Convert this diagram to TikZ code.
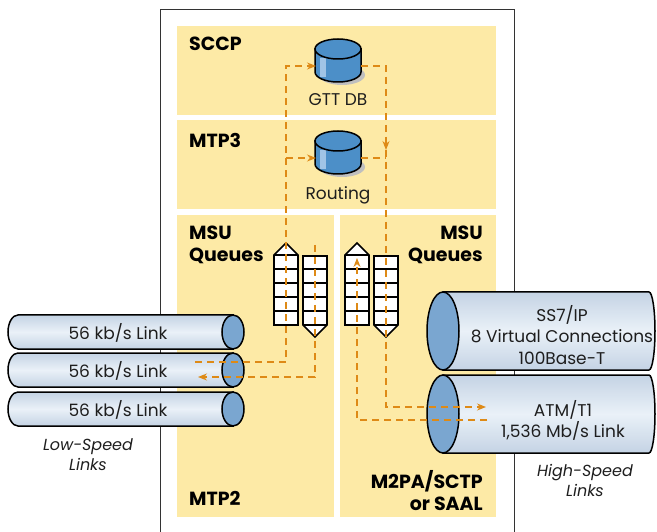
\documentclass[tikz,border=0pt]{standalone}
\usepackage{fontspec}
\setmainfont{Poppins}
\usetikzlibrary{arrows.meta}

\definecolor{amarelo}{RGB}{253,234,166}
\definecolor{laranja}{RGB}{222,138,22}
\definecolor{azul}{RGB}{76,143,200}
\definecolor{azulclaro}{RGB}{160,196,230}
\definecolor{corpo}{RGB}{196,211,228}
\definecolor{brilho}{RGB}{234,241,248}
\definecolor{tampa}{RGB}{122,166,208}
\definecolor{cinza}{RGB}{30,30,30}

\begin{document}
\begin{tikzpicture}[x=1pt, y=-1pt, >={Stealth[length=9pt,width=7pt]},
		camada/.style={fill=amarelo},
		rotulo/.style={font=\bfseries\fontsize{19}{22}\selectfont, inner sep=0pt},
		texto/.style={font=\fontsize{17}{21.5}\selectfont, text=cinza, inner sep=0pt, align=center},
		legenda/.style={font=\itshape\fontsize{16}{20}\selectfont, text=cinza, inner sep=0pt, align=center},
		contorno/.style={draw=black, line width=1.5pt},
		enlace/.style={contorno, top color=corpo, bottom color=corpo, middle color=brilho},
		fila/.style={draw=black, line width=1.7pt, fill=white},
		fluxo/.style={draw=laranja, line width=1.2pt, dash pattern=on 7pt off 5pt}]
	\useasboundingbox (0,0) rectangle (657,532);
	
	% Moldura
	\draw[line width=0.8pt, black!80] (160,545) -- (160,9) -- (514,9) -- (514,545);
	
	% Camadas
	\fill[camada] (177,26) rectangle (496,115);
	\fill[camada] (177,120) rectangle (496,209);
	\fill[camada] (177,215) rectangle (334,517);
	\fill[camada] (340,215) rectangle (496,517);
	
	\node[rotulo, anchor=north west] (sccp) at (189,37) {SCCP};
	\node[rotulo, anchor=north west] (mtp3) at (189,133) {MTP3};
	\node[rotulo, anchor=north west, align=left] (msuL) at (189,226) {MSU\\Queues};
	\node[rotulo, anchor=north east, align=right] (msuR) at (483,226) {MSU\\Queues};
	\node[rotulo, anchor=north west] (mtp2) at (189,491) {MTP2};
	\node[rotulo, anchor=north east, align=right] (m2pa) at (483,470) {M2PA/SCTP\\or SAAL};
	
	% Bases de dados
	\foreach \yt in {49,141} {
		\fill[black!25] (342,\yt+26) ellipse[x radius=23pt, y radius=10pt];
		\filldraw[contorno, fill=azul] (315,\yt) -- (315,\yt+23) arc[start angle=180, end angle=360, x radius=23pt, y radius=10pt] -- (361,\yt) -- cycle;
		\fill[azulclaro] (320,\yt+9) rectangle (326,\yt+28);
		\filldraw[contorno, fill=azul] (338,\yt) ellipse[x radius=23pt, y radius=10pt];
	}
	\node[texto, anchor=base] (gtt) at (338,106) {GTT DB};
	\node[texto, anchor=base] (rot) at (338,200) {Routing};
	
	% Filas
	\foreach \x in {286,357} {
		\filldraw[fila] (\x-12,325) -- (\x-12,255) -- (\x,243) -- (\x+12,255) -- (\x+12,325) -- cycle;
		\foreach \y in {255,269,283,297,311}
			\draw[fila] (\x-12,\y) -- (\x+12,\y);
	}
	\foreach \x in {315,386} {
		\filldraw[fila] (\x-12,256) -- (\x+12,256) -- (\x+12,325) -- (\x,337) -- (\x-12,325) -- cycle;
		\foreach \y in {269,283,297,311,325}
			\draw[fila] (\x-12,\y) -- (\x+12,\y);
	}
	
	% Enlaces lentos
	\foreach \yc in {332,370,409} {
		\shadedraw[enlace] (233,\yc-17) -- (18,\yc-17) arc[start angle=90, end angle=270, x radius=10pt, y radius=17pt] -- (233,\yc+17) -- cycle;
		\filldraw[contorno, fill=tampa] (233,\yc) ellipse[x radius=11pt, y radius=17pt];
		\node[texto, anchor=base] (lento\yc) at (118,\yc+7.5) {56 kb/s Link};
	}
	\node[legenda, anchor=north] (lentos) at (88,438) {Low-Speed\\Links};
	
	% Enlaces rapidos
	\foreach \yc in {331,414} {
		\shadedraw[enlace] (443,\yc-39) -- (649,\yc-39) arc[start angle=90, end angle=-90, x radius=6pt, y radius=39pt] -- (443,\yc+39) -- cycle;
		\filldraw[contorno, fill=tampa] (443,\yc) ellipse[x radius=16pt, y radius=39pt];
	}
	\node[texto, anchor=north] (ss7) at (562,305) {SS7/IP\\8 Virtual Connections\\100Base-T};
	\node[texto, anchor=north] (atm) at (563,400) {ATM/T1\\1,536 Mb/s Link};
	\node[legenda, anchor=north] (rapidos) at (585,464) {High-Speed\\Links};
	
	% Pontos do fluxo
	\coordinate (entraL) at (195,362);
	\coordinate (saiL) at (198,377);
	\coordinate (gttE) at (316,66);
	\coordinate (gttS) at (361,66);
	\coordinate (rotE) at (316,158);
	\coordinate (rotS) at (361,158);
	\coordinate (filaA) at (286,243);
	\coordinate (filaB) at (315,245);
	\coordinate (filaC) at (357,258);
	\coordinate (desce) at (386,150);
	\coordinate (saiH) at (486,407);
	\coordinate (entraH) at (487,420);
	
	% Fluxo com setas
	\draw[fluxo, ->] (entraL) -| (filaA) |- (gttE);
	\draw[fluxo, ->] (rotE -| filaA) -- (rotE);
	\draw[fluxo, ->] (gttS) -| (desce);
	\draw[fluxo, ->] (desce) |- (saiH);
	\draw[fluxo] (rotS) -- (rotS -| desce);
	\draw[fluxo, ->] (filaB) |- (saiL);
	\draw[fluxo, ->] (entraH) -| (filaC);
\end{tikzpicture}
\end{document}
